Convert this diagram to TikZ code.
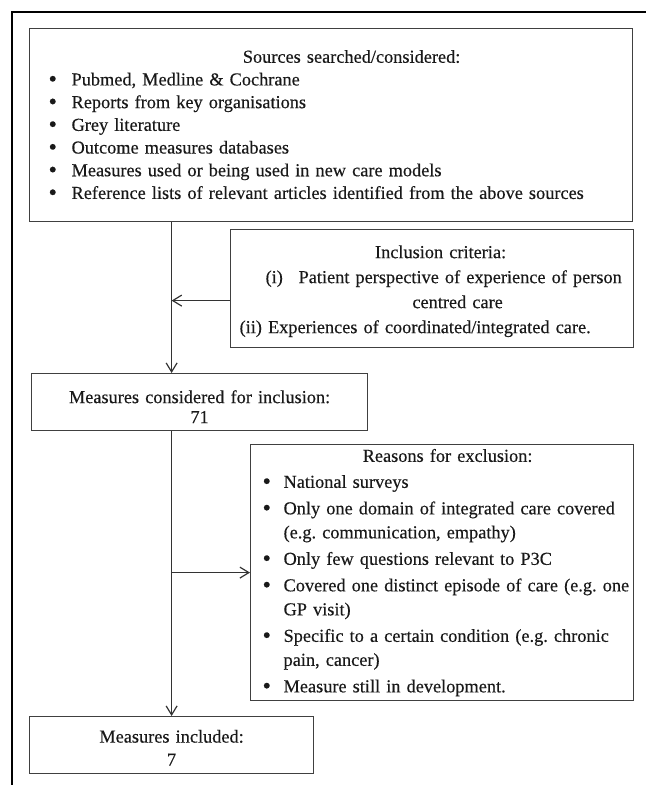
\documentclass[tikz,border=0pt]{standalone}
\usepackage{fontspec}
\setmainfont{Liberation Serif}[UprightFeatures={FakeBold=0.35}]
\usepackage{graphicx}
\usepackage{tikz}
\usetikzlibrary{arrows.meta, positioning}
\frenchspacing
\newcommand{\bigbul}{\raisebox{-1.2pt}{\scalebox{1.3}{\textbullet}}}
\newcommand{\bulrow}[3]{\mbox{\hspace*{#1}\makebox[#2][l]{\bigbul}#3}}
\newcommand{\indrow}[2]{\mbox{\hspace*{#1}#2}}
\newcommand{\midrow}[2]{\makebox[\linewidth]{\hspace*{#1}#2}}

\begin{document}
\begin{tikzpicture}[x=1pt, y=-1pt,
  box/.style={rectangle, draw=black!75, line width=1.2pt, inner sep=0pt,
    anchor=north west, align=left, text=black!90},
  arr/.style={-{Straight Barb[length=9pt, width=11pt]}, line width=1.2pt, color=black!80},
  frame/.style={line width=2.5pt, black}
]
\useasboundingbox (0,0) rectangle (646,785);
\draw[frame] (12,785) -- (12,12) -- (646,12);

\node[box, text width=603pt, minimum height=193pt,
      font=\fontsize{18.3pt}{22.7pt}\selectfont] at (29,28) (sources) {%
  \midrow{41pt}{Sources searched/considered:}\\
  \bulrow{19pt}{23pt}{Pubmed, Medline \& Cochrane}\\
  \bulrow{19pt}{23pt}{Reports from key organisations}\\
  \bulrow{19pt}{23pt}{Grey literature}\\
  \bulrow{19pt}{23pt}{Outcome measures databases}\\
  \bulrow{19pt}{23pt}{Measures used or being used in new care models}\\
  \bulrow{19pt}{23pt}{Reference lists of relevant articles identified from the above sources}};

\node[box, text width=403pt, minimum height=118pt,
      font=\fontsize{18.3pt}{25pt}\selectfont] at (230,229) (inclusion) {%
  \rule{0pt}{18pt}\midrow{17pt}{Inclusion criteria:}\\
  \indrow{35pt}{\makebox[33pt][l]{(i)}Patient perspective of experience of person}\\
  \midrow{51pt}{centred care}\\
  \indrow{9pt}{(ii) Experiences of coordinated/integrated care.}};

\node[box, text width=336pt, minimum height=57pt, align=center,
      font=\fontsize{18.3pt}{20pt}\selectfont] at (31,373) (considered) {%
  \rule{0pt}{22pt}Measures considered for inclusion:\\ 71};

\node[box, text width=383pt, minimum height=256pt,
      font=\fontsize{18.3pt}{24pt}\selectfont] at (250,444) (exclusion) {%
  \midrow{11pt}{Reasons for exclusion:}\\[2pt]
  \bulrow{12pt}{21pt}{National surveys}\\[2.5pt]
  \bulrow{12pt}{21pt}{Only one domain of integrated care covered}\\
  \indrow{33pt}{(e.g. communication, empathy)}\\[2.5pt]
  \bulrow{12pt}{21pt}{Only few questions relevant to P3C}\\[2.5pt]
  \bulrow{12pt}{21pt}{Covered one distinct episode of care (e.g. one}\\
  \indrow{33pt}{GP visit)}\\[2.5pt]
  \bulrow{12pt}{21pt}{Specific to a certain condition (e.g. chronic}\\
  \indrow{33pt}{pain, cancer)}\\[2.5pt]
  \bulrow{12pt}{21pt}{Measure still in development.}};

\node[box, text width=284pt, minimum height=57pt, align=center,
      font=\fontsize{18.3pt}{23pt}\selectfont] at (29,716) (included) {%
  \rule{0pt}{18pt}Measures included:\\ 7};

% main flow line
\coordinate (spine) at (included.north);
\coordinate (incljoin) at ([yshift=-12pt]inclusion.west);
\draw[arr] (spine |- sources.south) -- (spine |- considered.north);
\draw[arr] (incljoin) -- (spine |- incljoin);
\draw[arr] (spine |- considered.south) -- (included.north);
\draw[arr] (spine |- exclusion.west) -- (exclusion.west);
\end{tikzpicture}
\end{document}
